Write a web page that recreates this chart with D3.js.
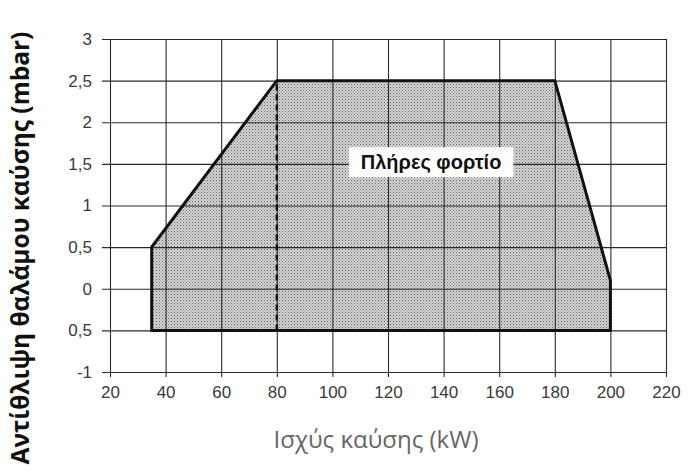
<!DOCTYPE html>
<html>
<head>
<meta charset="utf-8">
<script src="https://cdn.jsdelivr.net/npm/d3@7"></script>
<style>
  body { margin: 0; background: #fff; }
  svg { display: block; }
</style>
</head>
<body>
<script>
// chart values
const xTicks = [20, 40, 60, 80, 100, 120, 140, 160, 180, 200, 220];
const yTicks = [-1, -0.5, 0, 0.5, 1, 1.5, 2, 2.5, 3];
const yTickLabels = ["-1", "0,5", "0", "0,5", "1", "1,5", "2", "2,5", "3"];
const envelopePower = [35, 35, 80, 180, 200, 200];
const envelopePressure = [-0.5, 0.5, 2.5, 2.5, 0.1, -0.5];
const dividerPower = 80;
const dividerRange = [-0.5, 2.5];
const areaLabel = "Πλήρες φορτίο";
const labelAt = [135.5, 1.52];

const W = 696, H = 472;
const margin = { top: 39, right: 30, bottom: 100, left: 110 };

const svg = d3.select("body").append("svg")
  .attr("width", W)
  .attr("height", H);

const x = d3.scaleLinear().domain([20, 220]).range([margin.left, W - margin.right]);
const y = d3.scaleLinear().domain([-1, 3]).range([H - margin.bottom, margin.top]);

// stipple fill
const pat = svg.append("defs").append("pattern")
  .attr("id", "dots")
  .attr("width", 3).attr("height", 3)
  .attr("patternUnits", "userSpaceOnUse");
pat.append("rect").attr("width", 3).attr("height", 3).attr("fill", "#d6d6d6");
pat.append("rect").attr("width", 1).attr("height", 1).attr("fill", "#5e5e5e");
pat.append("rect").attr("x", 1.5).attr("y", 1.5).attr("width", 1).attr("height", 1).attr("fill", "#7a7a7a");

const points = envelopePower.map((p, i) => [p, envelopePressure[i]]);
const outline = d3.line().x(d => x(d[0])).y(d => y(d[1])).curve(d3.curveLinearClosed);

svg.append("path")
  .datum(points)
  .attr("fill", "url(#dots)")
  .attr("d", outline);

const tickFont = "Liberation Sans, Arial, sans-serif";

// grid via axes
svg.append("g")
  .attr("transform", `translate(0,${H - margin.bottom})`)
  .call(d3.axisBottom(x).tickValues(xTicks).tickSize(-(H - margin.top - margin.bottom)).tickSizeOuter(0).tickPadding(14))
  .call(g => g.select(".domain").remove())
  .call(g => g.selectAll(".tick line").attr("stroke", "#2a2a2a").attr("stroke-width", 1.1)
    .attr("y1", 5))
  .call(g => g.selectAll(".tick text")
    .attr("font-family", tickFont)
    .attr("font-size", 17).attr("fill", "#3a3a3a"));

svg.append("g")
  .attr("transform", `translate(${margin.left},0)`)
  .call(d3.axisLeft(y).tickValues(yTicks).tickFormat((d, i) => yTickLabels[i])
    .tickSize(-(W - margin.left - margin.right)).tickSizeOuter(0).tickPadding(18))
  .call(g => g.select(".domain").remove())
  .call(g => g.selectAll(".tick line").attr("stroke", "#2a2a2a").attr("stroke-width", 1.1)
    .attr("x1", -8))
  .call(g => g.selectAll(".tick text")
    .attr("font-family", tickFont)
    .attr("font-size", 17).attr("fill", "#3a3a3a"));

// envelope outline
svg.append("path")
  .datum(points)
  .attr("fill", "none")
  .attr("stroke", "#111")
  .attr("stroke-width", 3)
  .attr("stroke-linejoin", "miter")
  .attr("d", outline);

// dashed divider
svg.append("line")
  .attr("x1", x(dividerPower)).attr("x2", x(dividerPower))
  .attr("y1", y(dividerRange[0])).attr("y2", y(dividerRange[1]))
  .attr("stroke", "#111")
  .attr("stroke-width", 2.5)
  .attr("stroke-dasharray", "6,4");

// area label with white box
const lab = svg.append("g");
const t = lab.append("text")
  .attr("x", x(labelAt[0])).attr("y", y(labelAt[1]))
  .attr("text-anchor", "middle")
  .attr("dominant-baseline", "central")
  .attr("font-family", tickFont)
  .attr("font-weight", "bold")
  .attr("font-size", 20)
  .attr("fill", "#111")
  .text(areaLabel);
const bb = t.node().getBBox();
lab.insert("rect", "text")
  .attr("x", bb.x - 12).attr("y", bb.y - 4)
  .attr("width", bb.width + 24).attr("height", bb.height + 8)
  .attr("fill", "#fff");

// axis titles
svg.append("text")
  .attr("x", 376).attr("y", 448)
  .attr("text-anchor", "middle")
  .attr("font-family", "Open Sans, sans-serif")
  .attr("font-size", 24)
  .attr("fill", "#666")
  .text("Ισχύς καύσης (kW)");

svg.append("text")
  .attr("transform", "translate(29,248) rotate(-90)")
  .attr("text-anchor", "middle")
  .attr("font-family", "Open Sans, sans-serif")
  .attr("font-weight", "bold")
  .attr("font-size", 24.5)
  .attr("fill", "#111")
  .text("Αντίθλιψη θαλάμου καύσης (mbar)");
</script>
</body>
</html>
